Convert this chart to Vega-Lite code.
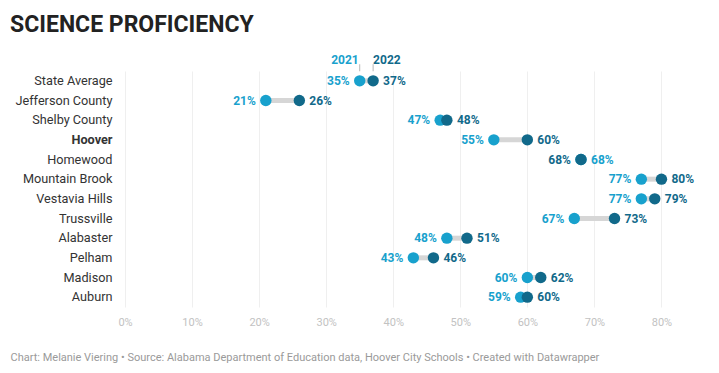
{
  "$schema": "https://vega.github.io/schema/vega-lite/v6.json",
  "width": 572,
  "height": 236,
  "padding": {"left": 10, "top": 13, "right": 10, "bottom": 6},
  "background": "white",
  "config": {
    "font": "Roboto",
    "view": {"stroke": null}
  },
  "title": {
    "text": "SCIENCE PROFICIENCY",
    "anchor": "start",
    "frame": "bounds",
    "fontSize": 23,
    "fontWeight": "bold",
    "color": "#222222",
    "font": "Roboto",
    "offset": 17
  },
  "data": {
    "values": [
      {"district": "State Average", "y2021": 35, "y2022": 37},
      {"district": "Jefferson County", "y2021": 21, "y2022": 26},
      {"district": "Shelby County", "y2021": 47, "y2022": 48},
      {"district": "Hoover", "y2021": 55, "y2022": 60},
      {"district": "Homewood", "y2021": 68, "y2022": 68},
      {"district": "Mountain Brook", "y2021": 77, "y2022": 80},
      {"district": "Vestavia Hills", "y2021": 77, "y2022": 79},
      {"district": "Trussville", "y2021": 67, "y2022": 73},
      {"district": "Alabaster", "y2021": 48, "y2022": 51},
      {"district": "Pelham", "y2021": 43, "y2022": 46},
      {"district": "Madison", "y2021": 60, "y2022": 62},
      {"district": "Auburn", "y2021": 59, "y2022": 60}
    ]
  },
  "encoding": {
    "y": {
      "field": "district",
      "type": "nominal",
      "sort": null,
      "scale": {"paddingInner": 0, "paddingOuter": 0},
      "axis": {
        "title": null,
        "ticks": false,
        "domain": false,
        "labelFontSize": 12.7,
        "labelColor": "#333333",
        "labelPadding": 13,
        "labelFontWeight": {"condition": {"test": "datum.value == 'Hoover'", "value": "bold"}, "value": "normal"}
      }
    }
  },
  "layer": [
    {
      "mark": {"type": "rule", "stroke": "#d6d6d6", "strokeWidth": 5},
      "encoding": {
        "x": {
          "field": "y2021",
          "type": "quantitative",
          "scale": {"domain": [0, 85.3], "nice": false},
          "axis": {
            "title": "Chart: Melanie Viering • Source: Alabama Department of Education data, Hoover City Schools • Created with Datawrapper",
            "titleAnchor": "start",
            "titleAlign": "left",
            "titleBaseline": "middle",
            "titleX": -115,
            "titleY": 50,
            "titleFontSize": 11,
            "titleFontWeight": "normal",
            "titleColor": "#9a9a9a",
            "values": [0, 10, 20, 30, 40, 50, 60, 70, 80],
            "labelExpr": "datum.value + '%'",
            "labelFontSize": 11,
            "labelColor": "#c2c2c2",
            "labelPadding": 9,
            "labelFlush": false,
            "ticks": false,
            "domain": false,
            "grid": true,
            "gridColor": "#efefef"
          }
        },
        "x2": {"field": "y2022"}
      }
    },
    {
      "transform": [{"filter": "datum.district == 'State Average'"}],
      "mark": {"type": "tick", "orient": "vertical", "color": "#999999", "thickness": 1, "size": 7, "yOffset": -13},
      "encoding": {"x": {"field": "y2021", "type": "quantitative"}}
    },
    {
      "transform": [{"filter": "datum.district == 'State Average'"}],
      "mark": {"type": "tick", "orient": "vertical", "color": "#999999", "thickness": 1, "size": 7, "yOffset": -13},
      "encoding": {"x": {"field": "y2022", "type": "quantitative"}}
    },
    {
      "transform": [{"filter": "datum.district == 'State Average'"}],
      "mark": {"type": "text", "align": "right", "dx": -1, "dy": -21, "fontSize": 12, "fontWeight": "bold", "color": "#18a1cd", "text": "2021"},
      "encoding": {"x": {"field": "y2021", "type": "quantitative"}}
    },
    {
      "transform": [{"filter": "datum.district == 'State Average'"}],
      "mark": {"type": "text", "align": "left", "dx": 0, "dy": -21, "fontSize": 12, "fontWeight": "bold", "color": "#11698a", "text": "2022"},
      "encoding": {"x": {"field": "y2022", "type": "quantitative"}}
    },
    {
      "mark": {"type": "point", "filled": true, "opacity": 1, "size": 130, "color": "#18a1cd"},
      "encoding": {"x": {"field": "y2021", "type": "quantitative"}}
    },
    {
      "mark": {"type": "point", "filled": true, "opacity": 1, "size": 130, "color": "#11698a"},
      "encoding": {"x": {"field": "y2022", "type": "quantitative"}}
    },
    {
      "mark": {"type": "text", "align": "right", "dx": -10, "fontSize": 12, "fontWeight": "bold", "text": {"expr": "datum.y2021 + '%'"}},
      "encoding": {
        "x": {"field": "y2021", "type": "quantitative"},
        "color": {"condition": {"test": "datum.y2021 == datum.y2022", "value": "#11698a"}, "value": "#18a1cd"}
      }
    },
    {
      "mark": {"type": "text", "align": "left", "dx": 10, "fontSize": 12, "fontWeight": "bold", "text": {"expr": "datum.y2022 + '%'"}},
      "encoding": {
        "x": {"field": "y2022", "type": "quantitative"},
        "color": {"condition": {"test": "datum.y2021 == datum.y2022", "value": "#18a1cd"}, "value": "#11698a"}
      }
    }
  ]
}
